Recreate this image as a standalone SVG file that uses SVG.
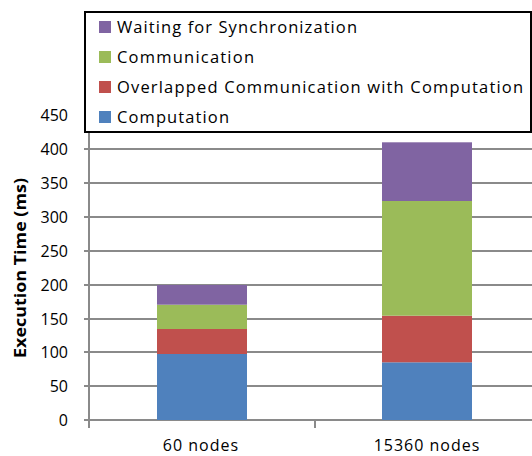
<svg xmlns="http://www.w3.org/2000/svg" width="532" height="456" viewBox="0 0 532 456">
<style>
.grid{stroke:#8a8a8a;stroke-width:2;fill:none}
.tick{font-family:"Open Sans","Liberation Sans",sans-serif;font-size:16px;fill:#000;text-anchor:end}
.cat{font-family:"Open Sans","Liberation Sans",sans-serif;font-size:16px;fill:#000;text-anchor:middle;letter-spacing:1px}
.leg{font-family:"Open Sans","Liberation Sans",sans-serif;font-size:16.5px;fill:#000}
.ttl{font-family:"Open Sans","Liberation Sans",sans-serif;font-size:15.5px;font-weight:bold;fill:#000;text-anchor:middle}
.comp{fill:#4f81bd}.ovl{fill:#c0504d}.comm{fill:#9bbb59}.wait{fill:#8064a2}
</style>
<rect width="532" height="456" fill="#fff"/>
<g id="gridlines">
<path class="grid" d="M84 420H532M84 386H532M84 352H532M84 319H532M84 285H532M84 251H532M84 217H532M84 183H532M84 149H532M84 115H532"/>
<path class="grid" d="M89 115V428M315 420V428"/>
</g>
<g id="yticks">
<text class="tick" x="68" y="426">0</text>
<text class="tick" x="68" y="392">50</text>
<text class="tick" x="68" y="358">100</text>
<text class="tick" x="68" y="325">150</text>
<text class="tick" x="68" y="291">200</text>
<text class="tick" x="68" y="257">250</text>
<text class="tick" x="68" y="223">300</text>
<text class="tick" x="68" y="189">350</text>
<text class="tick" x="68" y="155">400</text>
<text class="tick" x="68" y="121">450</text>
</g>
<text class="ttl" transform="translate(26,268) rotate(-90)" textLength="180" lengthAdjust="spacingAndGlyphs">Execution Time (ms)</text>
<g id="bar-60">
<rect class="comp" x="157" y="354" width="90" height="66"/>
<rect class="ovl" x="157" y="329" width="90" height="25"/>
<rect class="comm" x="157" y="304.7" width="90" height="24.3"/>
<rect class="wait" x="157" y="285" width="90" height="19.7"/>
</g>
<g id="bar-15360">
<rect class="comp" x="382" y="362.3" width="90" height="57.7"/>
<rect class="ovl" x="382" y="315.7" width="90" height="46.6"/>
<rect class="comm" x="382" y="201" width="90" height="114.7"/>
<rect class="wait" x="382" y="142.3" width="90" height="58.7"/>
</g>
<text class="cat" x="201" y="451">60 nodes</text>
<text class="cat" x="427" y="451">15360 nodes</text>
<g id="legend">
<rect x="85" y="12" width="446" height="120" fill="#fff" stroke="#000" stroke-width="2"/>
<rect class="wait" x="99" y="21" width="12" height="12"/>
<rect class="comm" x="99" y="51" width="12" height="12"/>
<rect class="ovl" x="99" y="81" width="12" height="12"/>
<rect class="comp" x="99" y="111" width="12" height="12"/>
<text class="leg" x="117" y="33" textLength="240" lengthAdjust="spacing">Waiting for Synchronization</text>
<text class="leg" x="117" y="63" textLength="137" lengthAdjust="spacing">Communication</text>
<text class="leg" x="117" y="93" textLength="406" lengthAdjust="spacing">Overlapped Communication with Computation</text>
<text class="leg" x="117" y="123" textLength="112" lengthAdjust="spacing">Computation</text>
</g>
</svg>
